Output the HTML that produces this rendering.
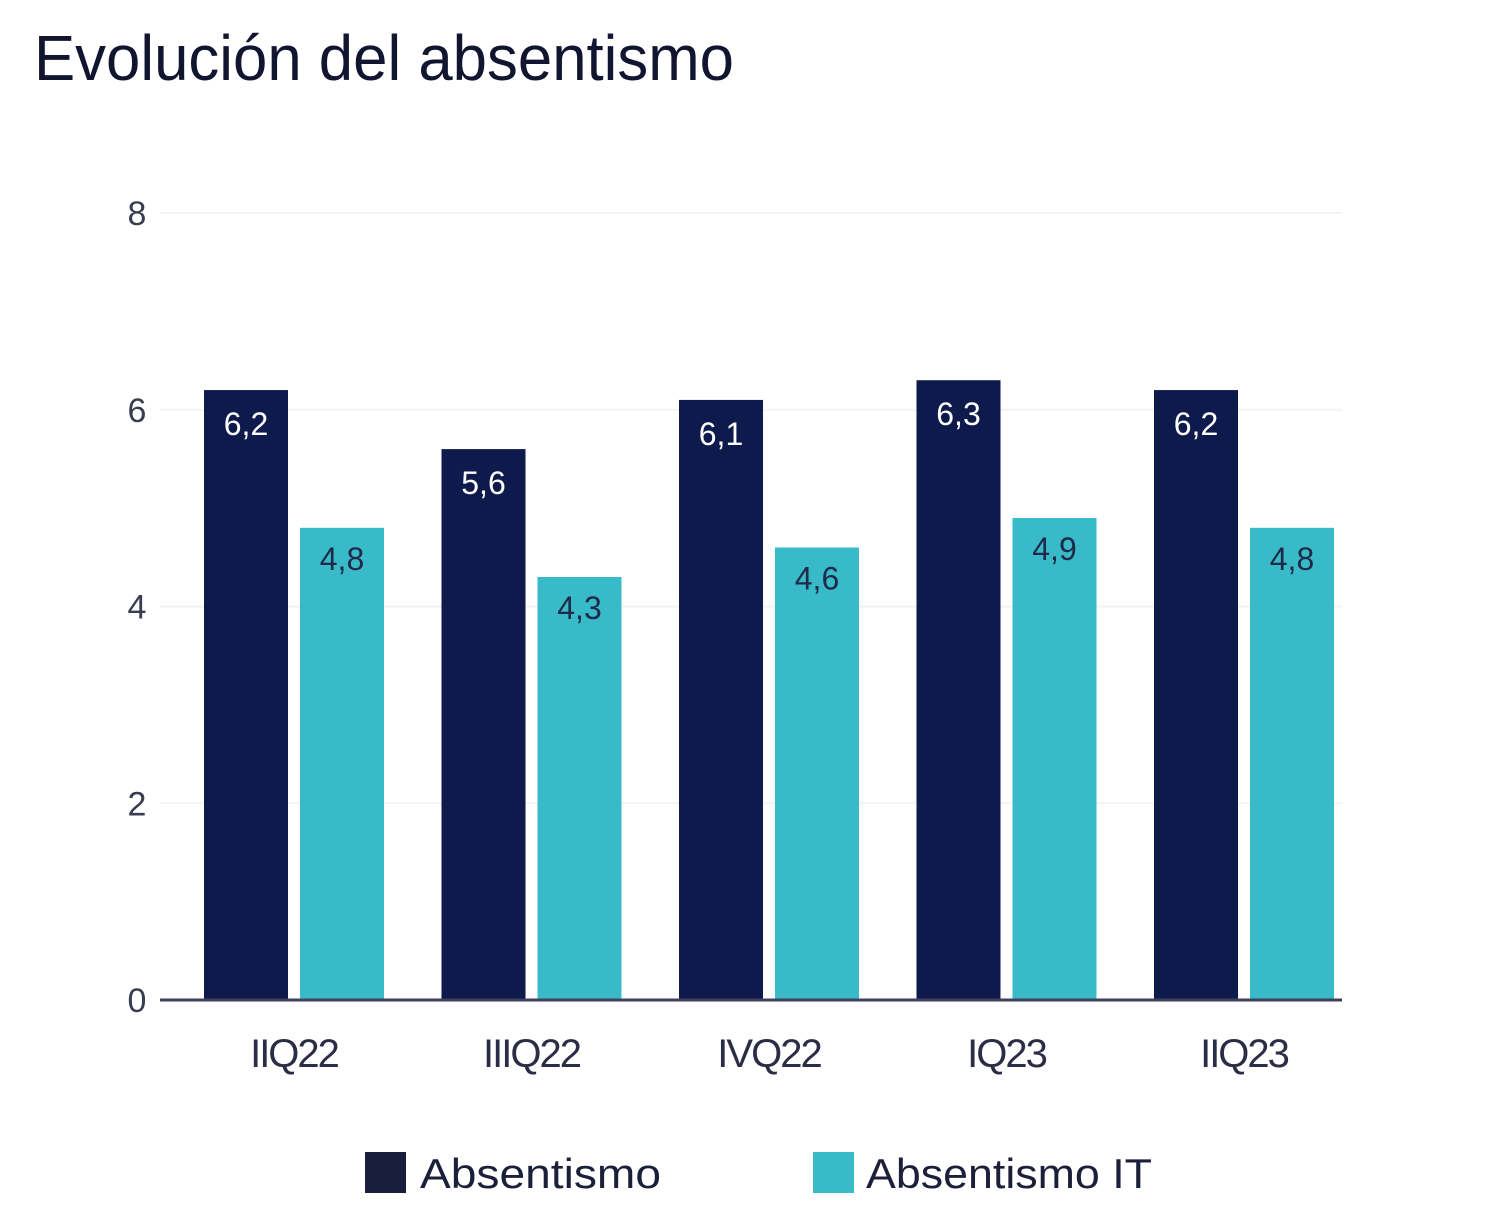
<!DOCTYPE html>
<html><head><meta charset="utf-8"><style>html,body{margin:0;padding:0;background:#fff;}svg{display:block;font-family:"Liberation Sans",sans-serif;}</style></head>
<body>
<svg id="chart" width="1500" height="1218" viewBox="0 0 1500 1218">
<text x="34" y="80" font-size="64" fill="#111530" textLength="700" lengthAdjust="spacingAndGlyphs">Evolución del absentismo</text>
<g id="grid"></g>
<g id="bars"></g>
<g id="xlabels"></g>
<g>
<rect x="365" y="1152" width="41" height="41" fill="#1a1e3e"/>
<text x="420" y="1188" font-size="42" fill="#1b1f3a" textLength="241" lengthAdjust="spacingAndGlyphs">Absentismo</text>
<rect x="813" y="1152" width="41" height="41" fill="#38bac8"/>
<text x="866" y="1188" font-size="42" fill="#1b1f3a" textLength="286" lengthAdjust="spacingAndGlyphs">Absentismo IT</text>
</g>
</svg>
<script>
const categories = ["IIQ22","IIIQ22","IVQ22","IQ23","IIQ23"];
const absentismo = [6.2,5.6,6.1,6.3,6.2];
const absentismoIT = [4.8,4.3,4.6,4.9,4.8];
const yTicks = [0,2,4,6,8];
const valueLabelsA = ["6,2","5,6","6,1","6,3","6,2"];
const valueLabelsB = ["4,8","4,3","4,6","4,9","4,8"];

const NS="http://www.w3.org/2000/svg";
const y0=1000, y8=213, x0=160, x1=1342;
const yScale=v=>y0-(v/8)*(y0-y8);
const xCenter=i=>294+i*237.5;
function mk(tag,attrs,parent){const e=document.createElementNS(NS,tag);for(const k in attrs)e.setAttribute(k,attrs[k]);parent.appendChild(e);return e;}
const grid=document.getElementById('grid'), bars=document.getElementById('bars'), xl=document.getElementById('xlabels');
yTicks.forEach(t=>{
  const y=yScale(t);
  if(t>0){const l=mk('line',{x1:x0,x2:x1,y1:y,y2:y,stroke:'#f6f2ee','stroke-width':2},grid);
  
  }
  const tx=mk('text',{x:137,y:y+12,'font-size':34,fill:'#3a3d52','text-anchor':'middle'},grid);
  tx.textContent=String(t);
  
  
});
categories.forEach((c,i)=>{
  const cx=xCenter(i);
  const ya=yScale(absentismo[i]);
  const ra=mk('rect',{x:cx-90,y:ya,width:84,height:y0-ya,fill:'#0e1a4c'},bars);
  
  
  const ta=mk('text',{x:cx-48,y:ya+45,'font-size':32,fill:'#ffffff','text-anchor':'middle'},bars);
  ta.textContent=valueLabelsA[i];
  
  
  const yb=yScale(absentismoIT[i]);
  const rb=mk('rect',{x:cx+6,y:yb,width:84,height:y0-yb,fill:'#38bac8'},bars);
  
  
  const tb=mk('text',{x:cx+48,y:yb+42,'font-size':32,fill:'#1e2a48','text-anchor':'middle'},bars);
  tb.textContent=valueLabelsB[i];
  
  
  const lx=mk('text',{x:cx,y:1067,'font-size':40,fill:'#2a2d45','text-anchor':'middle','letter-spacing':'-2'},xl);
  lx.textContent=c;
  
  
});
const ax=mk('line',{x1:x0,x2:x1,y1:y0,y2:y0,stroke:'#3e4160','stroke-width':3},bars);


</script>
</body></html>
